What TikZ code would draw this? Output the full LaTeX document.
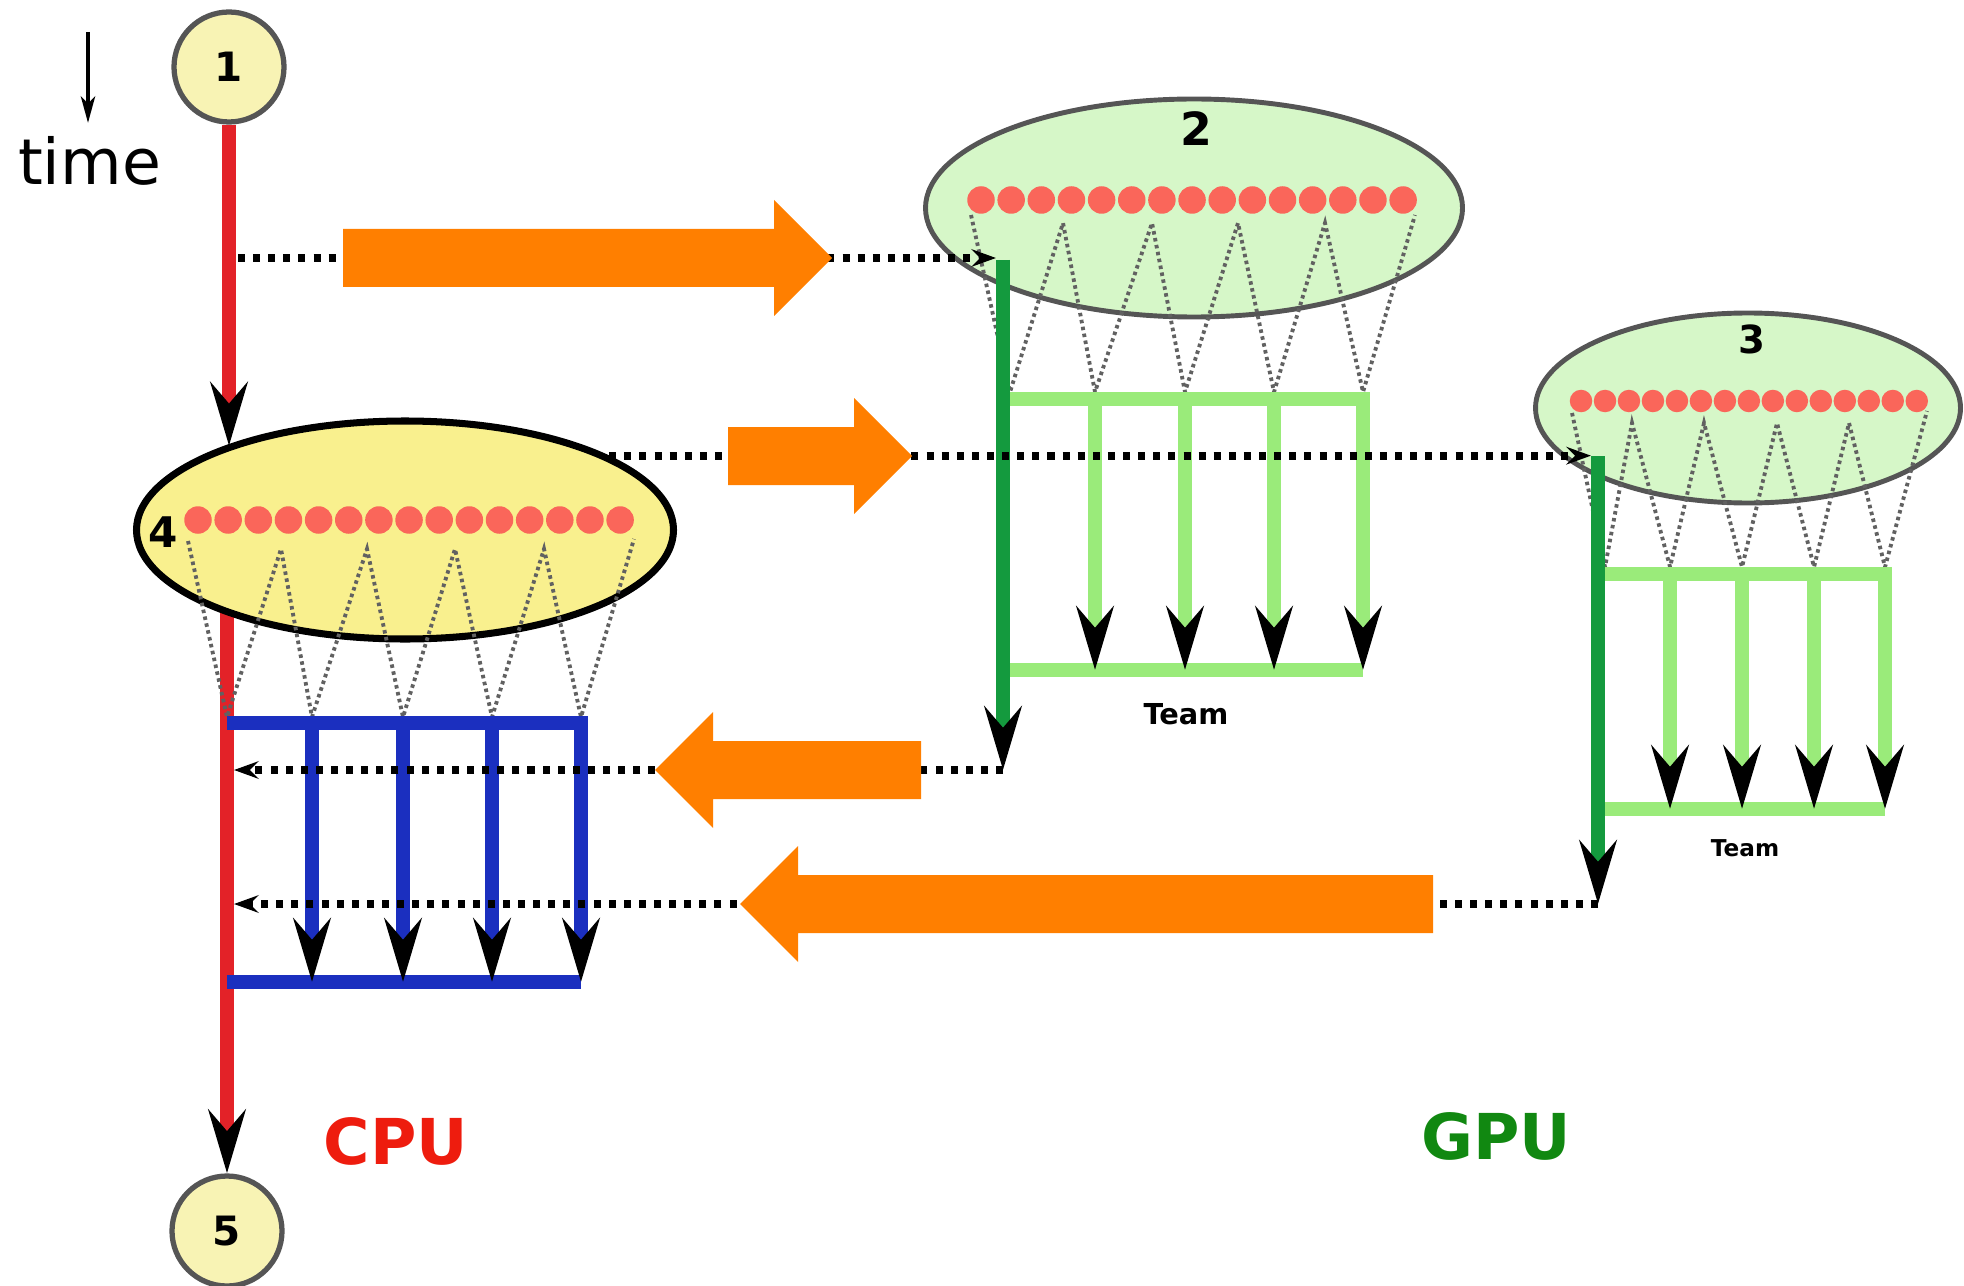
\documentclass[tikz,border=0pt]{standalone}
\usepackage{fontspec}
\setmainfont{DejaVu Sans}
\usepackage{xcolor}
\definecolor{StageYellow}{RGB}{248,243,180}
\definecolor{HostYellow} {RGB}{249,240,142}
\definecolor{DevGreen}   {RGB}{214,247,200}
\definecolor{RimGray}    {RGB}{85,85,85}
\definecolor{ThreadRed}  {RGB}{250,102,90}
\definecolor{TimeRed}    {RGB}{227,34,40}
\definecolor{TeamBlue}   {RGB}{27,47,191}
\definecolor{TeamGreen}  {RGB}{154,235,122}
\definecolor{MainGreen}  {RGB}{20,154,62}
\definecolor{CopyOrange} {RGB}{255,127,0}
\definecolor{CpuRed}     {RGB}{238,28,14}
\definecolor{GpuGreen}   {RGB}{17,136,17}
\usetikzlibrary{
  shapes.geometric,
  arrows.meta,
  backgrounds
}

\begin{document}
\begin{tikzpicture}[
  x=1cm, y=-1cm,
  stage/.style={
    circle, draw=RimGray, line width=1.5pt,
    fill=StageYellow, minimum size=1.10cm, inner sep=0pt,
    font=\fontsize{11.5}{13}\selectfont\bfseries
  },
  hostregion/.style={
    ellipse, draw=black, line width=2pt,
    fill=HostYellow, inner sep=0pt,
    minimum width=5.37cm, minimum height=2.18cm
  },
  devregion/.style={
    ellipse, draw=RimGray, line width=1.4pt,
    fill=DevGreen, inner sep=0pt
  },
  thread/.style={
    circle, fill=ThreadRed, inner sep=0pt,
    minimum size=0.275cm
  },
  fork/.style={
    draw=black!62, line width=1.1pt,
    dash pattern=on 1pt off 1pt
  },
  bigtip/.style={
    -{Stealth[length=18pt, width=10.5pt, inset=6pt, color=black]}},
  timeline/.style={draw=TimeRed, line width=4.2pt},
  cputeam/.style={draw=TeamBlue, line width=3.8pt},
  gputeam/.style={draw=TeamGreen, line width=3.9pt},
  gpumaster/.style={draw=MainGreen, line width=4.2pt},
  msg/.style={
    draw=black, line width=2.2pt,
    dash pattern=on 2pt off 2.3pt,
    -{Stealth[length=7pt, width=5pt, inset=2.5pt]}},
  copyarrow/.style={fill=CopyOrange},
  numlbl/.style={font=\bfseries},
  teamlbl/.style={font=\bfseries},
  sidelbl/.style={font=\fontsize{18}{21}\selectfont\bfseries}
]
\useasboundingbox (0,0) rectangle (19.64,12.85);

% time axis
\coordinate (tA) at (0.88,0.32);
\coordinate (tB) at (0.88,1.23);
\draw[line width=1.3pt, -{Stealth[length=7.5pt, width=4pt, inset=2pt]}]
  (tA) -- (tB);
\node[font=\fontsize{18}{21}\selectfont, anchor=base]
  (timelbl) at (0.895,1.85) {time};

% sequential stages
\node[stage] (s1) at (2.29,0.67) {1};
\node[stage] (s5) at (2.27,12.31) {5};

% parallel regions
\node[hostregion] (r4) at (4.05,5.30) {};
\node[devregion, minimum width=5.37cm, minimum height=2.18cm]
  (r2) at (11.94,2.08) {};
\node[devregion, minimum width=4.25cm, minimum height=1.90cm]
  (r3) at (17.48,4.08) {};

\begin{scope}[on background layer]
\draw[timeline, bigtip] (s5 |- r4.center) -- (s5.north);
\end{scope}

\node[numlbl, font=\fontsize{12}{14}\selectfont\bfseries] (n4) at (1.63,5.32) {4};
\node[numlbl, font=\fontsize{13}{15}\selectfont\bfseries] (n2) at (11.96,1.29) {2};
\node[numlbl, font=\fontsize{11}{13}\selectfont\bfseries] (n3) at (17.52,3.39) {3};

% threads
\foreach \i in {0,...,14}
  \node[thread] (h\i) at ({1.98+0.3015*\i},5.20) {};
\foreach \i in {0,...,14}
  \node[thread] (a\i) at ({9.81+0.3015*\i},2.00) {};
\foreach \i in {0,...,14}
  \node[thread, minimum size=0.225cm] (b\i) at ({15.81+0.2398*\i},4.01) {};

% threads to teams
\draw[fork] (1.88,5.41) -- (2.27,7.17) -- (2.81,5.49) -- (3.12,7.17)
  -- (3.67,5.49) -- (4.03,7.17) -- (4.55,5.49) -- (4.92,7.17)
  -- (5.44,5.49) -- (5.81,7.17) -- (6.34,5.39);
\draw[fork] (9.71,2.15) -- (10.10,3.92) -- (10.63,2.23) -- (10.95,3.92)
  -- (11.52,2.23) -- (11.85,3.92) -- (12.38,2.23) -- (12.74,3.92)
  -- (13.25,2.23) -- (13.63,3.92) -- (14.15,2.15);
\draw[fork] (15.72,4.13) -- (16.05,5.67) -- (16.32,4.23) -- (16.70,5.67)
  -- (17.04,4.23) -- (17.42,5.67) -- (17.77,4.23) -- (18.14,5.67)
  -- (18.49,4.23) -- (18.85,5.67) -- (19.27,4.11);

\draw[timeline, bigtip] (s1.south) -- (s1.south |- r4.155);

% CPU team
\coordinate (cpuTL) at (2.27,7.23);
\coordinate (cpuBR) at (5.81,9.82);
\draw[cputeam] (cpuTL) -- (cpuTL -| cpuBR);
\draw[cputeam] (cpuTL |- cpuBR) -- (cpuBR);
\foreach \x in {3.12,4.03,4.92,5.81}
  \draw[cputeam, line cap=rect, bigtip] (\x,7.23) -- (\x,9.82);

% GPU team of region 2
\coordinate (t2TL) at (10.03,3.99);
\coordinate (t2BR) at (13.63,6.70);
\draw[gputeam] (t2TL) -- (t2TL -| t2BR);
\draw[gputeam] (t2TL |- t2BR) -- (t2BR);
\foreach \x in {10.95,11.85,12.74,13.63}
  \draw[gputeam, line cap=rect, bigtip] (\x,3.99) -- (\x,6.70);
\coordinate (g2top) at (10.03,2.60);
\coordinate (g2end) at (10.03,7.70);
\draw[gpumaster, bigtip] (g2top) -- (g2end);

% GPU team of region 3
\coordinate (t3TL) at (15.98,5.74);
\coordinate (t3BR) at (18.85,8.09);
\draw[gputeam] (t3TL) -- (t3TL -| t3BR);
\draw[gputeam] (t3TL |- t3BR) -- (t3BR);
\foreach \x in {16.70,17.42,18.14,18.85}
  \draw[gputeam, line cap=rect, bigtip] (\x,5.74) -- (\x,8.09);
\coordinate (g3top) at (15.98,4.56);
\coordinate (g3end) at (15.98,9.04);
\draw[gpumaster, bigtip] (g3top) -- (g3end);

\node[teamlbl, font=\fontsize{8.2}{10}\selectfont\bfseries] (team2) at (11.86,7.14) {Team};
\node[teamlbl, font=\fontsize{6.6}{8}\selectfont\bfseries] (team3) at (17.45,8.48) {Team};

% offload and return
\coordinate (hostA) at (2.38,2.58);
\coordinate (hostC) at (2.34,7.70);
\coordinate (hostD) at (2.34,9.04);
\draw[msg, shorten >=2pt] (hostA) -- (hostA -| g2top);
\draw[msg, shorten >=2pt] (r4.20) -- (r4.20 -| g3top);
\draw[msg] (g2end) -- (hostC);
\draw[msg] (g3end) -- (hostD);

% data transfer
\foreach \tail/\base/\tip/\y in {3.43/7.74/8.32/2.58,
    7.28/8.54/9.12/4.56, 9.21/7.13/6.55/7.70, 14.33/7.98/7.40/9.04}
  \fill[copyarrow] (\tail,\y-0.29) -- (\base,\y-0.29) -- (\base,\y-0.58)
    -- (\tip,\y) -- (\base,\y+0.58) -- (\base,\y+0.29)
    -- (\tail,\y+0.29) -- cycle;

\node[sidelbl, text=CpuRed]   (cpulbl) at (3.96,11.41) {CPU};
\node[sidelbl, text=GpuGreen] (gpulbl) at (14.96,11.36) {GPU};

\end{tikzpicture}
\end{document}
